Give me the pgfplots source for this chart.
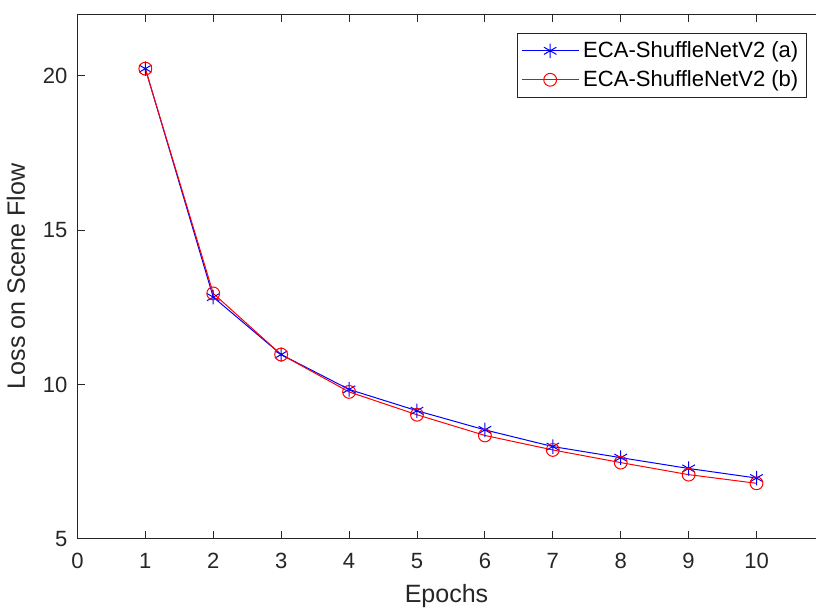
\documentclass[border=0pt]{standalone}
\usepackage{fontspec}
\setmainfont{Liberation Sans}
\usepackage{pgfplots}
\pgfplotsset{compat=1.18}

\definecolor{axgray}{RGB}{38,38,38}

\pgfplotsset{
  commonax/.style={
    width=368.5pt, height=262pt,
    scale only axis,
    xmin=0, xmax=10.87,
    ymin=5, ymax=22,
    xtick={0,1,...,10},
    ytick={5,10,15,20},
    axis line style={axgray, line width=0.4pt},
    tick style={axgray, line width=0.4pt},
    major tick length=4pt,
  }
}

\begin{document}
\begin{tikzpicture}
\begin{axis}[
    commonax,
    axis x line*=bottom,
    axis y line*=left,
    /pgf/number format/assume math mode=true,
    tick label style={font=\fontsize{11}{13}\selectfont, text=axgray},
    xticklabel style={yshift=-3.5pt},
    yticklabel style={xshift=-1.5pt},
    label style={font=\fontsize{12.5}{14}\selectfont, text=axgray},
    xlabel={Epochs},
    ylabel={Loss on Scene Flow},
    xlabel style={yshift=-1pt},
    ylabel style={yshift=2pt},
    legend style={at={(0.988,0.964)}, anchor=north east, draw=axgray,
        font=\fontsize{11}{13}\selectfont, row sep=1pt, inner sep=2pt},
    legend cell align=left,
    legend image code/.code={
        \draw[mark repeat=2, mark phase=2] plot coordinates {(0cm,0cm) (0.5cm,0cm) (1cm,0cm)};
    },
]
\addplot[blue, line width=0.5pt, mark=asterisk, mark size=3.6pt, mark options={solid}] coordinates {
(1,20.23) (2,12.83) (3,10.97) (4,9.84) (5,9.15) (6,8.53) (7,7.99) (8,7.63) (9,7.28) (10,6.97)
};
\addlegendentry{ECA-ShuffleNetV2 (a)}
\addplot[red, line width=0.5pt, mark=o, mark size=3.2pt, mark options={solid}] coordinates {
(1,20.23) (2,12.95) (3,10.97) (4,9.76) (5,9.02) (6,8.35) (7,7.88) (8,7.47) (9,7.08) (10,6.80)
};
\addlegendentry{ECA-ShuffleNetV2 (b)}
\end{axis}
\begin{axis}[
    commonax,
    axis x line*=top,
    axis y line=none,
    xticklabels={},
]
\end{axis}
\path (current axis.north) ++(0,7pt);
\end{tikzpicture}
\end{document}
